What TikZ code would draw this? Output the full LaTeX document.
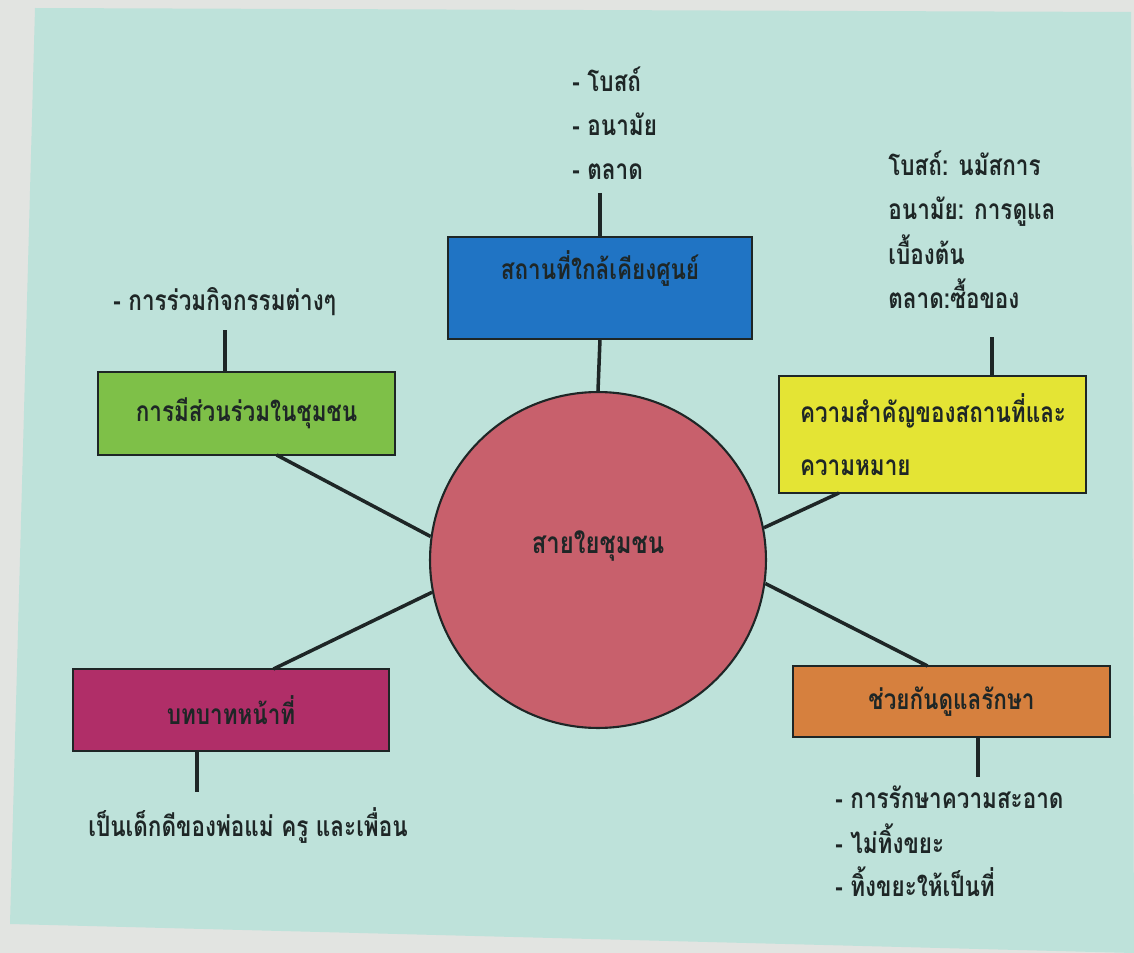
\documentclass[tikz,border=0pt]{standalone}
\usepackage{fontspec}
\usepackage{tikz}
\usetikzlibrary{positioning}
\newfontfamily\thaifont[Script=Thai,FakeStretch=0.8]{Loma}
\definecolor{paper}{RGB}{226,228,225}
\definecolor{sheet}{RGB}{190,226,218}
\definecolor{hubred}{RGB}{200,96,108}
\definecolor{boxblue}{RGB}{32,116,196}
\definecolor{boxgreen}{RGB}{126,192,72}
\definecolor{boxyellow}{RGB}{228,228,52}
\definecolor{boxorange}{RGB}{214,128,62}
\definecolor{boxmagenta}{RGB}{176,46,104}
\definecolor{ink}{RGB}{30,38,38}

\begin{document}
\begin{tikzpicture}
    [
    x=0.02cm, y=-0.02cm,
    topic/.style={rectangle,draw=ink,line width=1.6pt,inner sep=0pt,outer sep=0pt,text=ink,font=\thaifont\bfseries\fontsize{16}{30}\selectfont},
    hubcircle/.style={circle,draw=ink,line width=1.2pt,fill=hubred,minimum size=6.72cm,inner sep=0pt,text=ink,font=\thaifont\bfseries\fontsize{17}{20}\selectfont},
    note/.style={anchor=base west,inner sep=0pt,text=ink,font=\thaifont\bfseries\fontsize{16}{19}\selectfont},
    link/.style={draw=ink,line width=2pt},
    stub/.style={draw=ink,line width=2.4pt},
    ]
    % paper and sheet
    \useasboundingbox (0,0) rectangle (1134,953);
    \fill [paper] (0,0) rectangle (1134,953);
    \fill [sheet] (35,8) -- (1131,12) -- (1134,953) -- (10,924) -- cycle;

    \node (hub) at (598,560) [hubcircle,text height=11pt,text depth=18pt] {สายใยชุมชน};
    \node (blu) at (600,288) [topic,fill=boxblue,minimum width=6.08cm,minimum height=2.04cm,text height=11pt,text depth=21pt] {สถานที่ใกล้เคียงศูนย์};
    \node (grn) at (246.5,413.5) [topic,fill=boxgreen,minimum width=5.94cm,minimum height=1.66cm] {การมีส่วนร่วมในชุมชน};
    \node (ylw) at (932.5,434.5) [topic,fill=boxyellow,minimum width=6.14cm,minimum height=2.34cm,text width=5.3cm,align=left] {ความสำคัญของสถานที่และ\\ความหมาย};
    \node (mag) at (231,710) [topic,fill=boxmagenta,minimum width=6.32cm,minimum height=1.64cm] {บทบาทหน้าที่};
    \node (org) at (951.5,701.5) [topic,fill=boxorange,minimum width=6.34cm,minimum height=1.42cm] {ช่วยกันดูแลรักษา};

    % notes
    \node (b1) at (572,92) [note] {- โบสถ์};
    \node (b2) at (572,136) [note] {- อนามัย};
    \node (b3) at (572,180) [note] {- ตลาด};
    \node (y1) at (888,176) [note] {โบสถ์: นมัสการ};
    \node (y2) at (888,220) [note] {อนามัย: การดูแล};
    \node (y3) at (888,265) [note] {เบื้องต้น};
    \node (y4) at (888,309) [note] {ตลาด:ซื้อของ};
    \node (g1) at (113,311) [note] {- การร่วมกิจกรรมต่างๆ};
    \node (m1) at (88,836) [note] {เป็นเด็กดีของพ่อแม่ ครู และเพื่อน};
    \node (o1) at (835,808) [note] {- การรักษาความสะอาด};
    \node (o2) at (835,853) [note] {- ไม่ทิ้งขยะ};
    \node (o3) at (835,896) [note] {- ทิ้งขยะให้เป็นที่};

    \coordinate (blutop) at (600,193);
    \coordinate (ylwtop) at (992,337);
    \coordinate (grntop) at (225,330);
    \coordinate (magbot) at (197,792);
    \coordinate (orgbot) at (978,777);

    \draw [link] (blu.south) to (hub.north);
    \draw [link] (grn.-54) to (hub.172);
    \draw [link] (mag.44) to (hub.191);
    \draw [link] (ylw.212) to (hub.11);
    \draw [link] (org.124) to (hub.-8);

    \draw [stub] (blutop) to (blu.north);
    \draw [stub] (ylwtop) to (ylwtop |- ylw.north);
    \draw [stub] (grntop) to (grntop |- grn.north);
    \draw [stub] (magbot |- mag.south) to (magbot);
    \draw [stub] (orgbot |- org.south) to (orgbot);
  \end{tikzpicture}
\end{document}
